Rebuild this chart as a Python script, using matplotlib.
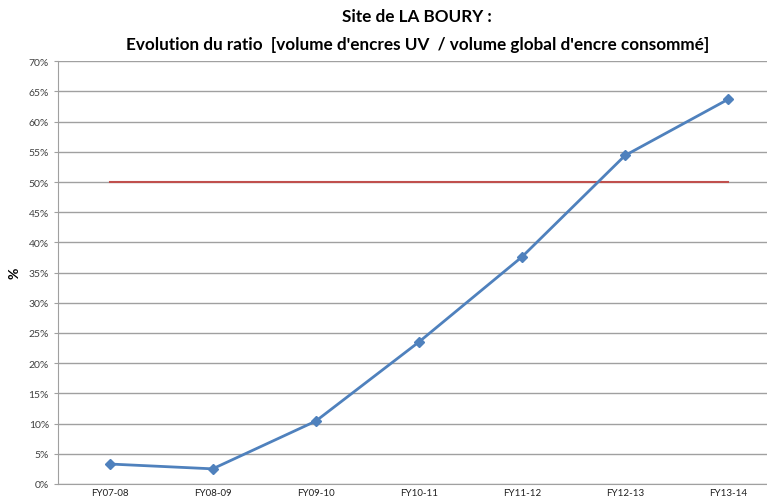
import numpy as np
import matplotlib
matplotlib.use("Agg")
import matplotlib.pyplot as plt
from matplotlib.ticker import FuncFormatter

# Data
years = ['FY07-08', 'FY08-09', 'FY09-10', 'FY10-11', 'FY11-12', 'FY12-13', 'FY13-14']
ratio = [3.3, 2.5, 10.4, 23.5, 37.6, 54.4, 63.7]
target = [50, 50, 50, 50, 50, 50, 50]

plt.rcParams['font.family'] = ['Lato', 'DejaVu Sans']

fig = plt.figure(figsize=(7.67, 5.02), dpi=100)
ax = fig.add_axes([0.0756, 0.034, 0.941, 0.842])

x = np.arange(len(years))
ax.plot(x, target, '-', color='#C0504D', linewidth=1.5, zorder=3)
ax.plot(x, ratio, '-', color='#4F81BD', linewidth=2, marker='D', markersize=5, zorder=4)

ax.set_xlim(-0.5, 6.5)
ax.set_ylim(0, 70)
ax.set_yticks(np.arange(0, 71, 5))
ax.yaxis.set_major_formatter(FuncFormatter(lambda v, p: '%d%%' % v))
ax.set_xticks(x)
ax.set_xticklabels(years)
ax.grid(axis='y', color='#A0A0A0', linewidth=1)
ax.set_axisbelow(True)

for side in ['top', 'right']:
    ax.spines[side].set_visible(False)
ax.spines['left'].set_color('#A0A0A0')
ax.spines['bottom'].set_color('#A0A0A0')
ax.tick_params(axis='y', labelsize=7.5, colors='#404040', length=3, color='#A0A0A0')
ax.tick_params(axis='x', labelsize=7, colors='#202020', length=0, pad=3)

ax.set_ylabel('%', fontsize=10, fontweight='bold', labelpad=6)

fig.text(0.544, 0.966, 'Site de LA BOURY :', ha='center', va='center', fontsize=12.3, fontweight='bold')
fig.text(0.544, 0.91, "Evolution du ratio  [volume d'encres UV  / volume global d'encre consommé]",
         ha='center', va='center', fontsize=12.3, fontweight='bold')

fig.savefig('out.png', dpi=100)
